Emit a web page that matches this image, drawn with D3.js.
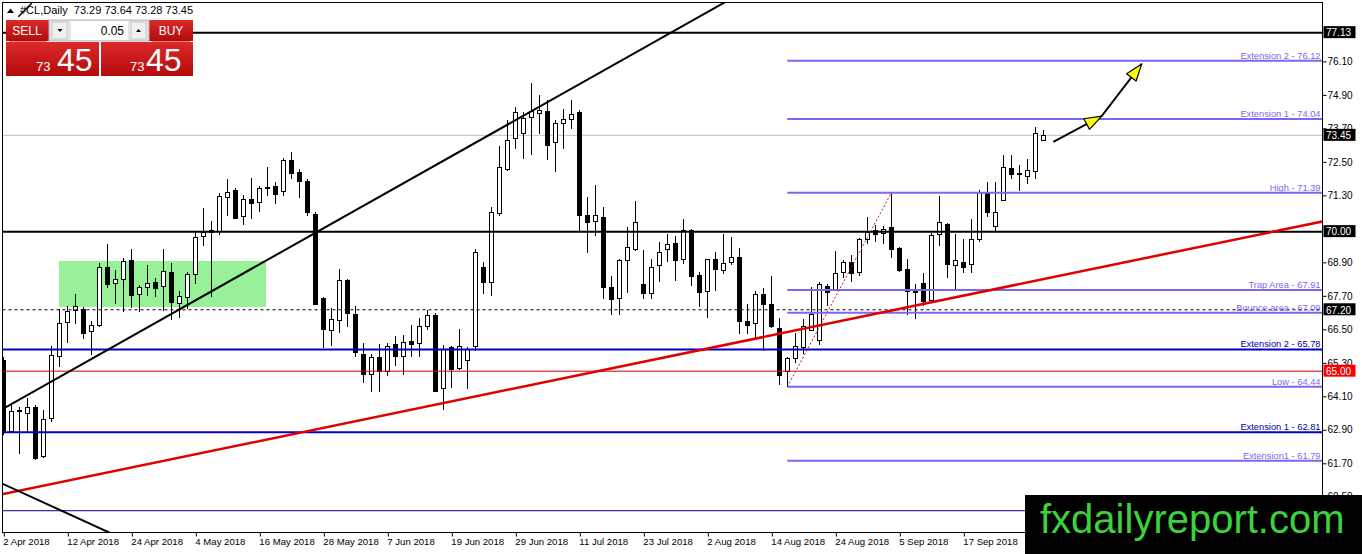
<!DOCTYPE html>
<html><head><meta charset="utf-8">
<script src="https://cdn.jsdelivr.net/npm/d3@7/dist/d3.min.js"></script>
<style>
html,body{margin:0;padding:0;background:#fff;overflow:hidden;}
svg{display:block;}
text{font-family:"Liberation Sans",Arial,sans-serif;}
</style></head><body>
<svg id="c" width="1362" height="554"></svg>
<script>
// ---------- DATA ----------
const dateTickLabels = ["2 Apr 2018","12 Apr 2018","24 Apr 2018","4 May 2018","16 May 2018","28 May 2018","7 Jun 2018","19 Jun 2018","29 Jun 2018","11 Jul 2018","23 Jul 2018","2 Aug 2018","14 Aug 2018","24 Aug 2018","5 Sep 2018","17 Sep 2018"];
const dateTickEvery = 8; // bars between date labels

const opens  = [65.41,62.85,63.60,63.49,63.73,61.97,63.31,65.56,66.75,67.19,67.23,66.43,66.67,68.74,68.17,68.29,68.97,67.77,68.02,68.21,68.07,68.57,67.45,67.67,68.49,69.83,70.00,70.03,71.23,71.50,70.57,71.17,71.05,71.59,71.63,71.47,72.55,72.13,71.83,70.63,67.63,66.49,66.85,68.25,67.05,65.61,64.90,65.50,65.02,65.97,65.55,66.09,66.01,66.61,67.03,64.39,65.87,65.11,65.41,65.89,68.74,68.20,70.66,72.25,73.35,73.54,74.11,74.24,74.32,73.21,73.89,74.02,74.27,70.60,70.39,70.51,68.03,67.63,68.98,69.37,68.11,67.81,68.79,69.39,69.61,69.03,70.06,68.43,67.87,69.01,68.62,68.91,69.10,66.79,66.71,67.75,67.42,66.55,64.99,65.47,65.86,66.49,66.13,68.05,67.93,68.56,68.92,68.55,69.73,70.06,69.94,70.15,69.43,68.65,67.90,68.17,67.55,69.91,70.27,68.79,68.92,68.83,69.73,71.41,70.21,71.14,72.27,72.10,72.01,72.19,73.29];
const highs  = [65.50,63.80,63.73,64.03,63.80,63.60,65.89,67.23,67.33,67.75,67.30,66.80,68.89,69.55,68.62,69.07,69.39,68.10,68.79,68.35,69.39,68.89,67.87,68.55,70.03,70.83,70.39,71.39,71.89,71.55,71.30,71.91,71.63,72.31,71.77,72.63,72.85,72.23,71.90,70.70,67.65,67.27,68.65,68.30,67.33,66.01,65.60,65.98,66.00,66.25,66.31,66.67,66.91,67.21,67.10,65.95,65.90,66.51,65.85,69.39,68.90,70.87,73.07,74.01,74.47,74.30,75.31,74.89,74.71,74.00,74.40,74.71,74.35,71.23,71.67,70.87,68.41,69.03,70.18,71.11,69.33,69.03,69.63,69.91,69.85,70.45,70.10,68.55,69.01,69.27,69.91,69.79,69.40,67.41,67.87,67.99,68.41,66.91,65.50,66.37,66.87,68.00,68.18,68.11,69.31,69.00,69.15,69.76,70.51,70.25,70.20,71.39,69.45,69.03,68.11,68.53,69.95,71.26,70.30,69.91,69.73,70.45,71.50,71.79,71.79,72.75,72.75,72.39,72.61,73.75,73.64];
const lows   = [62.70,62.80,62.05,62.83,61.81,61.90,63.19,65.14,66.01,66.70,66.15,65.59,66.60,67.99,67.42,67.12,67.27,67.12,67.69,67.65,67.15,66.85,66.90,67.23,68.11,69.49,67.66,69.87,70.57,70.45,70.23,70.45,70.69,71.27,70.99,71.29,71.89,71.19,70.57,67.40,65.83,65.91,66.37,66.58,65.50,64.57,64.27,64.27,64.81,65.17,64.87,65.50,65.50,66.46,64.27,63.61,64.39,65.05,64.35,65.71,67.78,67.71,70.57,72.19,72.97,72.61,72.75,73.51,72.55,72.15,72.97,73.66,70.03,69.25,69.85,67.57,67.03,67.03,67.81,69.30,67.59,67.59,68.19,68.91,68.23,68.85,68.05,67.29,66.91,67.87,68.47,68.79,66.35,66.35,66.19,65.71,66.55,64.51,64.44,65.30,65.60,66.45,65.95,67.33,67.87,68.35,68.19,68.41,69.55,69.63,69.55,69.07,68.55,67.03,66.87,67.33,67.50,69.49,68.35,67.93,68.53,68.53,69.63,70.54,70.03,71.10,71.89,71.47,71.71,71.89,73.28];
const closes = [62.83,63.57,63.58,63.73,61.90,63.27,65.59,66.73,67.15,67.35,66.37,66.67,68.74,68.11,68.29,68.93,67.72,68.02,68.17,67.99,68.60,67.47,67.69,68.49,69.79,69.99,70.07,71.27,71.43,70.49,71.17,71.03,71.55,71.61,71.35,72.55,72.11,71.83,70.69,67.42,66.51,66.87,68.25,67.09,65.67,64.90,65.50,65.02,65.91,65.56,66.03,65.98,66.63,67.01,64.30,65.79,65.07,65.89,65.79,69.27,68.20,70.69,72.31,73.27,74.29,74.07,74.31,74.36,73.11,73.89,74.05,74.23,70.60,70.36,70.59,68.03,67.57,68.97,69.45,70.33,67.81,68.74,69.28,69.54,68.98,70.06,68.41,67.83,69.01,68.67,68.89,69.10,66.79,66.67,67.77,67.39,66.61,64.87,65.47,65.91,66.63,67.06,68.14,67.83,68.53,68.92,68.53,69.73,69.99,69.91,70.11,69.39,68.61,67.87,67.84,67.51,69.88,70.33,68.83,68.98,68.74,69.73,71.41,70.71,70.71,72.31,72.07,72.06,72.21,73.53,73.45];

// visible right-axis ticks (77.30 and 70.10 are hidden under price boxes in the reference)
const yTickValues = [60.50,61.70,62.90,64.10,65.30,66.50,67.70,68.90,71.30,72.50,73.70,74.90,76.10];

// Fibonacci-style levels drawn from the swing low bar to the right edge
const fibStartBar = 98;
const fibValues = [76.12,74.04,71.39,67.91,67.09,64.44,61.79];
const fibLabels = ["Extension 2 - 76.12","Extension 1 - 74.04","High - 71.39","Trap Area - 67.91","Bounce area - 67.09","Low - 64.44","Extension1 - 61.79"];
// Full width blue levels
const blueValues = [65.78,62.81];
const blueLabels = ["Extension 2 - 65.78","Extension 1 - 62.81"];
// Full width black levels
const blackValues = [77.13,70.00];
const dashedValue = 67.20;
const redValue = 65.00;
const lastPrice = 73.45;
const navyValue = 60.00;
// Price boxes on the right axis
const boxValues = [77.13,73.45,70.00,67.20,65.00];
const boxKinds  = ["black","black","black","black","red"];

// Trend lines as [barIndex, price] pairs
const trendUp   = [[-0.5,63.58],[92,78.51]];
const trendDown = [[-0.5,61.02],[14,59.12]];
const trendRed  = [[-0.5,60.57],[165,70.37]];
const smallStroke = [[1.875,77.70],[3.55,78.18]];
const swingLine = [[98,64.44],[111,71.39]];
const arrowPts  = [[131.25,73.22],[137.3,74.14],[142.3,76.01]];
const greenZone = {i0:6.96,i1:32.84,p0:67.30,p1:68.95};

const header = "#CL,Daily  73.29 73.64 73.28 73.45";
const lotSize = "0.05";
const bidBig = "45", bidSmall = "73";

// ---------- SCALES ----------
const svg = d3.select("#c");
const L = 2.5, R = 1322.5, T = 2.5, B = 532.5;
const x = d3.scaleLinear().domain([-0.1,164.9]).range([L,R]);
const y = d3.scaleLinear().domain([59.22,78.21]).range([B,T]);

svg.append("rect").attr("width",1362).attr("height",554).attr("fill","#fff");
svg.append("defs").append("clipPath").attr("id","plot")
  .append("rect").attr("x",L).attr("y",T).attr("width",R-L).attr("height",B-T);
const defs = svg.select("defs");
const g1 = defs.append("linearGradient").attr("id","redg").attr("x1",0).attr("y1",0).attr("x2",0).attr("y2",1);
g1.append("stop").attr("offset","0%").attr("stop-color","#dc2a2a");
g1.append("stop").attr("offset","100%").attr("stop-color","#b30a0a");

const plot = svg.append("g").attr("clip-path","url(#plot)");

// green zone
plot.append("rect")
  .attr("x",x(greenZone.i0)).attr("width",x(greenZone.i1)-x(greenZone.i0))
  .attr("y",y(greenZone.p1)).attr("height",y(greenZone.p0)-y(greenZone.p1))
  .attr("fill","#98f098");

// grey last price line
plot.append("line").attr("x1",L).attr("x2",R).attr("y1",y(lastPrice)).attr("y2",y(lastPrice))
  .attr("stroke","#c0c0c0").attr("stroke-width",1);

// candles
const bars = d3.range(opens.length);
const cg = plot.append("g").attr("shape-rendering","crispEdges");
bars.forEach(i=>{
  const cx = Math.round(x(i));
  cg.append("line").attr("x1",cx+0.5).attr("x2",cx+0.5)
    .attr("y1",y(highs[i])).attr("y2",y(lows[i])).attr("stroke","#000").attr("stroke-width",1);
  const top = y(Math.max(opens[i],closes[i])), bot = y(Math.min(opens[i],closes[i]));
  const bull = closes[i] >= opens[i];
  cg.append("rect").attr("x",cx-1.5).attr("width",4)
    .attr("y",Math.round(top)+0.5).attr("height",Math.max(1,Math.round(bot)-Math.round(top)))
    .attr("fill",bull?"#fff":"#000").attr("stroke","#000").attr("stroke-width",1);
});

// horizontal levels
function hline(p, x1, stroke, w, dash){
  plot.append("line").attr("x1",x1).attr("x2",R).attr("y1",y(p)).attr("y2",y(p))
    .attr("stroke",stroke).attr("stroke-width",w).attr("stroke-dasharray",dash||null);
}
hline(navyValue, L, "#000080", 1);
hline(redValue, L, "#d00000", 1);
hline(dashedValue, L, "#000", 1, "3,3");
blackValues.forEach(v=>hline(v, L, "#000", 2));
blueValues.forEach(v=>hline(v, L, "#0000c8", 2));
fibValues.forEach(v=>hline(v, x(fibStartBar), "#7b68ee", 2));

// trend lines
const lg = d3.line().x(d=>x(d[0])).y(d=>y(d[1]));
plot.append("path").attr("d",lg(trendRed)).attr("stroke","#e00000").attr("stroke-width",2.5).attr("fill","none");
plot.append("path").attr("d",lg(trendUp)).attr("stroke","#000").attr("stroke-width",2).attr("fill","none");
plot.append("path").attr("d",lg(trendDown)).attr("stroke","#000").attr("stroke-width",2).attr("fill","none");
plot.append("path").attr("d",lg(smallStroke)).attr("stroke","#000").attr("stroke-width",1.5).attr("fill","none");
plot.append("path").attr("d",lg(swingLine)).attr("stroke","#b22222").attr("stroke-width",1).attr("stroke-dasharray","2,2").attr("fill","none");

// level labels
const lblX = R - 2;
fibValues.forEach((v,k)=>{
  plot.append("text").attr("x",lblX).attr("y",y(v)-2).attr("text-anchor","end")
    .attr("font-size","9.3px").attr("fill","#7b68ee").text(fibLabels[k]);
});
blueValues.forEach((v,k)=>{
  plot.append("text").attr("x",lblX).attr("y",y(v)-2).attr("text-anchor","end")
    .attr("font-size","9.3px").attr("fill","#0000a0").text(blueLabels[k]);
});

// arrows
plot.append("path").attr("d",lg(arrowPts)).attr("stroke","#000").attr("stroke-width",2).attr("fill","none");
function arrowHead(a,b){
  const x1=x(a[0]),y1=y(a[1]),x2=x(b[0]),y2=y(b[1]);
  const dx=x2-x1, dy=y2-y1, len=Math.hypot(dx,dy), ux=dx/len, uy=dy/len, nx=-uy, ny=ux;
  const h=17, w=6;
  const bx=x2-ux*h, by=y2-uy*h;
  plot.append("path").attr("d",`M${x2},${y2}L${bx+nx*w},${by+ny*w}L${bx-nx*w},${by-ny*w}Z`)
    .attr("fill","#ffff00").attr("stroke","#000").attr("stroke-width",1.2).attr("stroke-linejoin","round");
}
arrowHead(arrowPts[0],arrowPts[1]);
arrowHead(arrowPts[1],arrowPts[2]);

// frame
svg.append("rect").attr("x",L).attr("y",T).attr("width",R-L).attr("height",B-T)
  .attr("fill","none").attr("stroke","#000").attr("stroke-width",1).attr("shape-rendering","crispEdges");

// axes
const xAxis = d3.axisBottom(x)
  .tickValues(dateTickLabels.map((d,k)=>k*dateTickEvery))
  .tickFormat((d,k)=>dateTickLabels[k]).tickSize(4).tickSizeOuter(0);
const xg = svg.append("g").attr("transform",`translate(0,${B})`).call(xAxis);
xg.select(".domain").remove();
xg.selectAll(".tick line").attr("stroke","#000").attr("transform","translate(0.5,0)");
xg.selectAll(".tick text").attr("text-anchor","start").attr("x",-0.5).attr("y",6)
  .attr("font-size","9.6px").attr("font-family","'Liberation Sans',Arial,sans-serif").attr("fill","#000");

const yAxis = d3.axisRight(y).tickValues(yTickValues).tickFormat(d3.format(".2f")).tickSize(4).tickPadding(1).tickSizeOuter(0);
const yg = svg.append("g").attr("transform",`translate(${R},0)`).call(yAxis);
yg.select(".domain").remove();
yg.selectAll(".tick line").attr("stroke","#000");
yg.selectAll(".tick text").attr("font-size","10px").attr("font-family","'Liberation Sans',Arial,sans-serif").attr("fill","#000");

// price boxes
boxValues.forEach((v,k)=>{
  const yy = y(v);
  svg.append("rect").attr("x",R+1).attr("y",yy-6.5).attr("width",32).attr("height",12)
    .attr("fill",boxKinds[k]==="red"?"#ff0000":"#000");
  svg.append("text").attr("x",R+3.5).attr("y",yy+3.8).attr("font-size","10px")
    .attr("fill","#fff").text(d3.format(".2f")(v));
});

// header
svg.append("path").attr("d","M7,13L10.5,8.5L14,13Z").attr("fill","#000");
svg.append("text").attr("x",20).attr("y",14).attr("font-size","11px").attr("fill","#000")
  .attr("xml:space","preserve").style("white-space","pre").text(header);

// trade panel
const panel = svg.append("g");
panel.append("rect").attr("x",6).attr("y",20).attr("width",43).attr("height",21).attr("fill","url(#redg)");
panel.append("rect").attr("x",149).attr("y",20).attr("width",44).attr("height",21).attr("fill","url(#redg)");
panel.append("rect").attr("x",49).attr("y",20).attr("width",100).attr("height",21).attr("fill","#e4e4e4").attr("stroke","#b5b5b5");
panel.append("rect").attr("x",71).attr("y",21).attr("width",57).attr("height",19).attr("fill","#fff");
panel.append("rect").attr("x",52).attr("y",22).attr("width",15).attr("height",17).attr("fill","#f0f0f0").attr("stroke","#c8c8c8");
panel.append("rect").attr("x",131).attr("y",22).attr("width",15).attr("height",17).attr("fill","#f0f0f0").attr("stroke","#c8c8c8");
panel.append("path").attr("d","M57.5,29L62.5,29L60,32Z").attr("fill","#000");
panel.append("path").attr("d","M136,32L141,32L138.5,29Z").attr("fill","#000");
panel.append("text").attr("x",124).attr("y",35).attr("text-anchor","end").attr("font-size","12px").attr("fill","#000").text(lotSize);
panel.append("text").attr("x",27).attr("y",35).attr("text-anchor","middle").attr("font-size","12px").attr("fill","#fff").text("SELL");
panel.append("text").attr("x",171).attr("y",35).attr("text-anchor","middle").attr("font-size","12px").attr("fill","#fff").text("BUY");
panel.append("line").attr("x1",10).attr("x2",46).attr("y1",41.5).attr("y2",41.5).attr("stroke","#f08080").attr("stroke-width",1);
panel.append("line").attr("x1",152).attr("x2",190).attr("y1",41.5).attr("y2",41.5).attr("stroke","#f08080").attr("stroke-width",1);
panel.append("rect").attr("x",6).attr("y",42).attr("width",93).attr("height",34).attr("fill","url(#redg)");
panel.append("rect").attr("x",101).attr("y",42).attr("width",92).attr("height",34).attr("fill","url(#redg)");
[[36,57],[130,146]].forEach(p=>{
  panel.append("text").attr("x",p[0]).attr("y",71).attr("font-size","13px").attr("fill","#fff").text(bidSmall);
  panel.append("text").attr("x",p[1]).attr("y",71).attr("font-size","32px").attr("fill","#fff").text(bidBig);
});

// watermark box
svg.append("rect").attr("x",1025).attr("y",495).attr("width",337).attr("height",59).attr("fill","#000");
svg.append("text").attr("x",1040).attr("y",533).attr("font-size","40px").attr("fill","#3cd23c")
  .attr("font-family","'Liberation Sans',Arial,sans-serif").text("fxdailyreport.com");
</script>
</body></html>
